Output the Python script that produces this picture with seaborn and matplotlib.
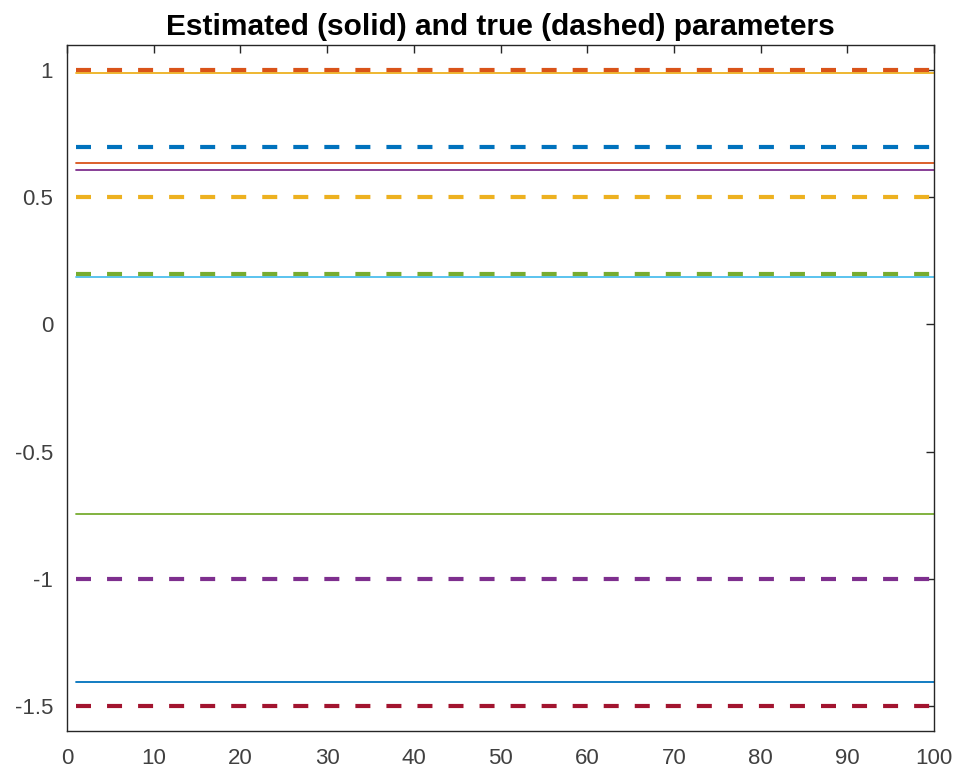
import numpy as np
import pandas as pd
import matplotlib
matplotlib.use("Agg")
import matplotlib.pyplot as plt
import seaborn as sns

# iterations on the x axis
iters = np.arange(1, 101)

# estimated parameters (solid) and their colours
est_vals = [0.99, 0.634, 0.61, 0.185, -0.744, -1.409]
est_colors = ["#EDB120", "#D95319", "#7E2F8E", "#4DBEEE", "#77AC30", "#0072BD"]

# true parameters (dashed) and their colours
true_vals = [1.0, 0.7, 0.5, 0.2, -1.0, -1.5]
true_colors = ["#D95319", "#0072BD", "#EDB120", "#77AC30", "#7E2F8E", "#A2142F"]

xticks = list(range(0, 101, 10))
yticks = [-1.5, -1, -0.5, 0, 0.5, 1]
ytick_labels = ["-1.5", "-1", "-0.5", "0", "0.5", "1"]

sns.set_style("white")
plt.rcParams["font.family"] = ["Liberation Sans", "DejaVu Sans"]

fig = plt.figure(figsize=(9.6, 7.76), dpi=100)
ax = fig.add_axes([0.0698, 0.058, 0.9032, 0.884])

# solid lines first, dashed on top
for v, c in zip(est_vals, est_colors):
    sns.lineplot(x=iters, y=np.full(len(iters), v), color=c, linewidth=1.3, ax=ax)
for v, c in zip(true_vals, true_colors):
    sns.lineplot(x=iters, y=np.full(len(iters), v), color=c, linewidth=3.0,
                 ax=ax).lines[-1].set_dashes([3.6, 3.85])

ax.set_xlim(0, 100)
ax.set_ylim(-1.6, 1.1)
ax.set_xticks(xticks)
ax.set_yticks(yticks)
ax.set_yticklabels(ytick_labels)
ax.tick_params(direction="in", length=6, width=1, colors="#262626", labelcolor="#404040",
               labelsize=16, top=True, right=True, labeltop=False, labelright=False)
ax.tick_params(axis="x", pad=12)
ax.tick_params(axis="y", pad=10)
for sp in ax.spines.values():
    sp.set_color("#262626")
    sp.set_linewidth(1)
ax.set_xlabel("")
ax.set_ylabel("")
ax.set_title("Estimated (solid) and true (dashed) parameters", fontsize=21.5,
             fontweight="bold", color="black", pad=7)

plt.savefig("out.png", dpi=100)
plt.close()
